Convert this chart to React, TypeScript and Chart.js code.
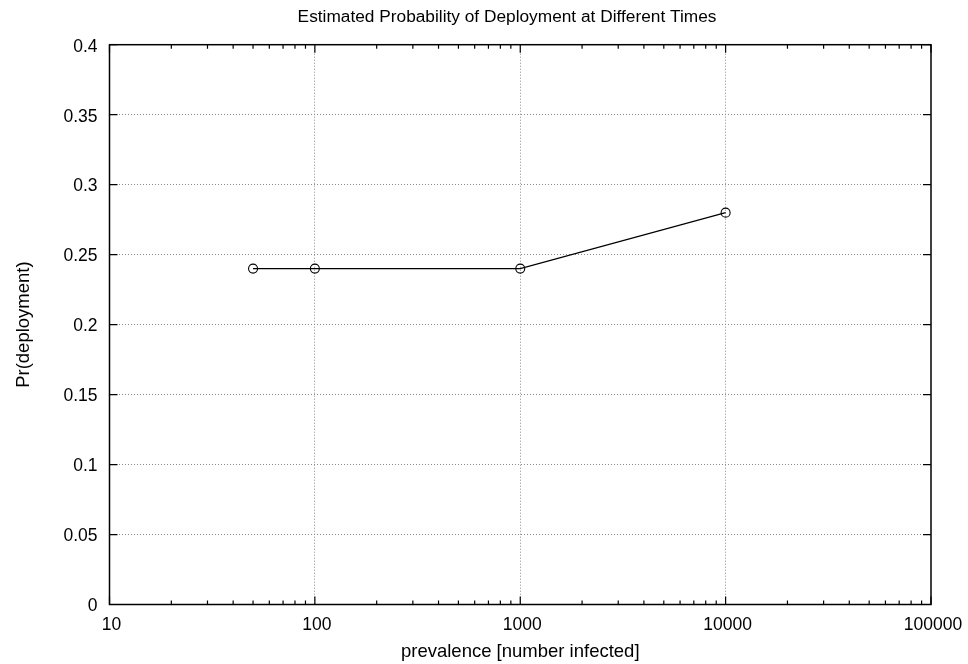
import React, { useEffect, useRef } from "react";
import { Chart, registerables } from "chart.js";

Chart.register(...registerables);

// Observed prevalence levels and estimated deployment probability
const prevalence = [50, 100, 1000, 10000];
const prDeployment = [0.24, 0.24, 0.24, 0.28];

// Axis ranges and tick positions
const xMin = 10;
const xMax = 100000;
const xDecades = [10, 100, 1000, 10000, 100000];
const xTickValues: number[] = [];
for (let d = 0; d < xDecades.length - 1; d++) {
  for (let m = 1; m <= 9; m++) xTickValues.push(xDecades[d] * m);
}
xTickValues.push(xMax);

const yMin = 0;
const yMax = 0.4;
const yStep = 0.05;

const titleText = "Estimated Probability of Deployment at Different Times";
const xTitle = "prevalence [number infected]";
const yTitle = "Pr(deployment)";

const FONT = "'Liberation Sans', Arial, Helvetica, sans-serif";
const GRID_COLOR = "#8a8a8a";

const isDecade = (v: number) => xDecades.includes(v);

// Heading drawn above the plot frame
const headingPlugin = {
  id: "heading",
  afterDraw(chart: any) {
    const { ctx } = chart;
    ctx.save();
    ctx.fillStyle = "#000";
    ctx.font = `17.3px ${FONT}`;
    ctx.textAlign = "center";
    ctx.textBaseline = "middle";
    ctx.fillText(titleText, 507, 17);
    ctx.restore();
  },
};

// Gnuplot-style frame with inward ticks on all four sides
const framePlugin = {
  id: "frameTicks",
  afterDraw(chart: any) {
    const { ctx, chartArea, scales } = chart;
    const { left, right, top, bottom } = chartArea;
    const x = scales.x;
    const y = scales.y;
    ctx.save();
    ctx.strokeStyle = "#000";
    ctx.lineWidth = 1.2;
    ctx.beginPath();
    for (const v of xTickValues) {
      const px = x.getPixelForValue(v);
      const len = isDecade(v) ? 8 : 4;
      ctx.moveTo(px, bottom);
      ctx.lineTo(px, bottom - len);
      ctx.moveTo(px, top);
      ctx.lineTo(px, top + len);
    }
    for (const t of y.ticks) {
      const py = y.getPixelForValue(t.value);
      ctx.moveTo(left, py);
      ctx.lineTo(left + 8, py);
      ctx.moveTo(right, py);
      ctx.lineTo(right - 8, py);
    }
    ctx.stroke();
    ctx.lineWidth = 1.5;
    ctx.strokeRect(left, top, right - left, bottom - top);
    ctx.restore();
  },
};

export default function App() {
  const canvasRef = useRef<HTMLCanvasElement | null>(null);

  useEffect(() => {
    const canvas = canvasRef.current;
    if (!canvas) return;
    const chart = new Chart(canvas, {
      type: "line",
      data: {
        datasets: [
          {
            data: prevalence.map((p, i) => ({ x: p, y: prDeployment[i] })),
            borderColor: "#000",
            borderWidth: 1.1,
            pointStyle: "circle",
            pointRadius: 4.5,
            pointBorderWidth: 1.1,
            pointBorderColor: "#000",
            pointBackgroundColor: "rgba(0,0,0,0)",
            tension: 0,
          },
        ],
      },
      options: {
        responsive: false,
        animation: false,
        events: [],
        layout: { padding: { left: 0, right: 37, top: 44.7, bottom: 0 } },
        plugins: {
          legend: { display: false },
          tooltip: { enabled: false },
          title: { display: false },
        },
        scales: {
          x: {
            type: "logarithmic",
            min: xMin,
            max: xMax,
            afterBuildTicks(scale: any) {
              scale.ticks = xTickValues.map((v) => ({ value: v, major: isDecade(v) }));
            },
            afterFit(scale: any) {
              scale.height = 59.5;
              scale.paddingLeft = 0;
              scale.paddingRight = 0;
            },
            grid: {
              drawTicks: false,
              lineWidth: 1,
              color: (c: any) =>
                c.tick && isDecade(c.tick.value) && c.tick.value !== xMin && c.tick.value !== xMax
                  ? GRID_COLOR
                  : "rgba(0,0,0,0)",
            },
            border: { display: false, dash: [1, 2] },
            ticks: {
              autoSkip: false,
              maxRotation: 0,
              minRotation: 0,
              padding: 10.3,
              labelOffset: 2,
              color: "#000",
              font: { family: FONT, size: 17.5 },
              callback: (v: any) => (isDecade(Number(v)) ? String(v) : ""),
            },
            title: {
              display: true,
              text: xTitle,
              color: "#000",
              font: { family: FONT, size: 18.5 },
              padding: { top: 0, bottom: 1 },
            },
          },
          y: {
            type: "linear",
            min: yMin,
            max: yMax,
            afterFit(scale: any) {
              scale.width = 109.5;
              scale.paddingTop = 0;
              scale.paddingBottom = 0;
            },
            grid: {
              drawTicks: false,
              lineWidth: 1,
              color: (c: any) =>
                c.tick && c.tick.value > yMin + 1e-9 && c.tick.value < yMax - 1e-9
                  ? GRID_COLOR
                  : "rgba(0,0,0,0)",
            },
            border: { display: false, dash: [1, 2] },
            ticks: {
              stepSize: yStep,
              padding: 12,
              labelOffset: 2,
              color: "#000",
              font: { family: FONT, size: 17.5 },
              callback: (v: any) => String(parseFloat(Number(v).toFixed(2))),
            },
            title: {
              display: true,
              text: yTitle,
              color: "#000",
              font: { family: FONT, size: 18.5 },
              padding: { top: 12.5, bottom: 0 },
            },
          },
        },
      },
      plugins: [framePlugin, headingPlugin],
    } as any);
    return () => chart.destroy();
  }, []);

  return (
    <canvas
      ref={canvasRef}
      width={968}
      height={664}
      style={{ position: "fixed", left: 0, top: 0, display: "block", background: "#fff" }}
    />
  );
}
